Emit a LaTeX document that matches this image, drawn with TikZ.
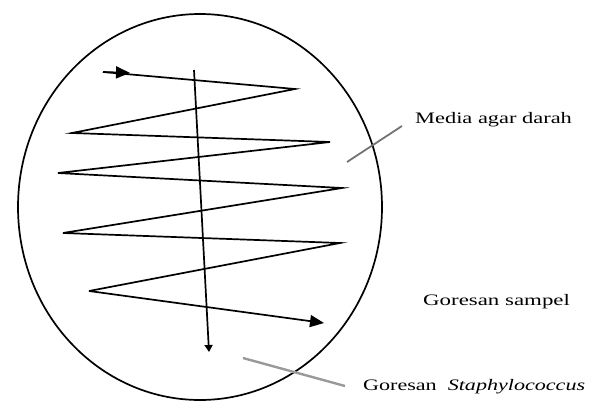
\documentclass[tikz,border=0pt]{standalone}
\usepackage{fontspec}
\setmainfont{Liberation Serif}
\usetikzlibrary{arrows.meta}
\begin{document}
\begin{tikzpicture}[x=1pt,y=-1pt,
  stroke/.style={line width=1.7pt,black},
  leader/.style={line width=1.8pt,black!55},
  lbl/.style={inner sep=0pt,anchor=base west,font=\fontsize{16}{18}\selectfont},
  bigtip/.style={-{Triangle[length=14pt,width=12pt]}},
  smalltip/.style={-{Triangle[length=7pt,width=8pt]}}]
\useasboundingbox (0,0) rectangle (600,402);
% plate
\draw[stroke] (200,207) ellipse [x radius=182pt, y radius=193pt];
% zigzag streak
\coordinate (s) at (103,72);
\coordinate (a) at (130,72.9);
\coordinate (p1) at (295,89);
\coordinate (p2) at (72,133);
\coordinate (p3) at (330,142);
\coordinate (p4) at (58,173);
\coordinate (p5) at (342,188);
\coordinate (p6) at (63,233);
\coordinate (p7) at (340,243);
\coordinate (p8) at (89,291);
\coordinate (e) at (324,323);
\draw[stroke,bigtip] (s) -- (a);
\draw[stroke,line join=miter] (s) -- (p1) -- (p2) -- (p3) -- (p4) -- (p5) -- (p6) -- (p7) -- (p8);
\draw[stroke,bigtip] (p8) -- (e);
% vertical streak
\coordinate (v1) at (194,70);
\coordinate (v2) at (209,352);
\draw[stroke,smalltip] (v1) -- (v2);
% labels
\node[lbl] (media) at (415,123) {\scalebox{1.4}[1]{Media agar darah}};
\node[lbl] (sampel) at (423,305) {\scalebox{1.43}[1]{Goresan sampel}};
\node[lbl] (staph) at (363,390) {\scalebox{1.38}[1]{Goresan\enspace\textit{Staphylococcus}}};
% leaders
\coordinate (m1) at (347,162);
\coordinate (m2) at (402,126);
\draw[leader] (m1) -- (m2);
\coordinate (g1) at (243,358);
\coordinate (g2) at (345,386);
\draw[leader,line width=2.4pt,black!40] (g1) -- (g2);
\end{tikzpicture}
\end{document}
